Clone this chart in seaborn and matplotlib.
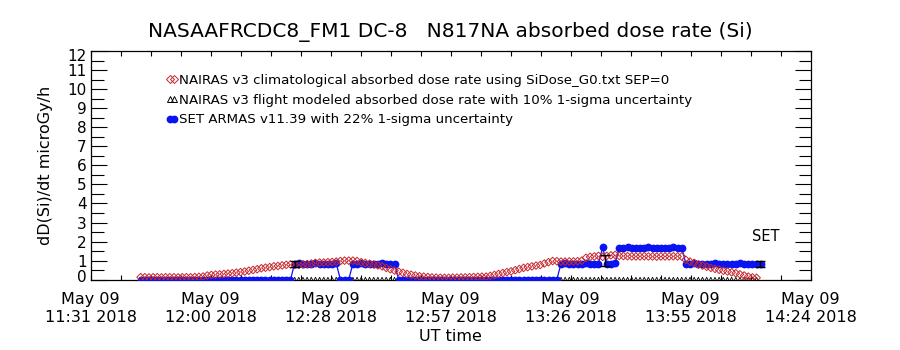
import numpy as np
import pandas as pd
import matplotlib
matplotlib.use("Agg")
import matplotlib.pyplot as plt
import matplotlib.transforms as mtransforms
import seaborn as sns
from matplotlib.lines import Line2D

# ---------------- data ----------------
title = "NASAAFRCDC8_FM1 DC-8   N817NA absorbed dose rate (Si)"
ylabel = "dD(Si)/dt microGy/h"
xlabel = "UT time"
legend_labels = [
    "NAIRAS v3 climatological absorbed dose rate using SiDose_G0.txt SEP=0",
    "NAIRAS v3 flight modeled absorbed dose rate with 10% 1-sigma uncertainty",
    "SET ARMAS v11.39 with 22% 1-sigma uncertainty",
]
x_tick_labels = ["May 09\n11:31 2018", "May 09\n12:00 2018", "May 09\n12:28 2018",
                 "May 09\n12:57 2018", "May 09\n13:26 2018", "May 09\n13:55 2018",
                 "May 09\n14:24 2018"]
x_span_min = 173.0          # minutes from 11:31 to 14:24
y_ticks = list(range(0, 13))

# NAIRAS climatological (red diamonds), one value per minute from minute 12 after 11:31
red_start = 12
red_vals = [0.13, 0.13, 0.12, 0.13, 0.13, 0.12, 0.13, 0.13, 0.13, 0.12, 0.13, 0.13, 0.13, 0.14, 0.15, 0.17,
            0.22, 0.25, 0.27, 0.28, 0.30, 0.32, 0.34, 0.37,
            0.40, 0.43, 0.47, 0.51, 0.55, 0.60,
            0.63, 0.66, 0.70, 0.72, 0.75, 0.78,
            0.80, 0.78,
            0.78, 0.80, 0.82, 0.85, 0.88,
            0.90, 0.90, 0.92, 0.93, 0.95,
            0.98, 1.00, 1.00, 1.00, 0.98,
            0.92, 0.88, 0.84, 0.80,
            0.75, 0.70, 0.62, 0.55,
            0.48, 0.42, 0.36, 0.30,
            0.26, 0.22, 0.18, 0.16,
            0.14, 0.12, 0.11, 0.10,
            0.10, 0.10, 0.11, 0.11, 0.12, 0.12, 0.13, 0.14, 0.15, 0.16, 0.16,
            0.20, 0.25, 0.30, 0.35, 0.40,
            0.44, 0.50, 0.56, 0.62,
            0.66, 0.70, 0.74, 0.77,
            0.85, 0.92, 0.98, 0.97,
            0.95, 0.95, 0.96, 0.96, 0.97, 1.00,
            1.15, 1.20, 1.22, 1.25,
            1.20, 1.25, 1.28, 1.30,
            1.25, 1.24, 1.23, 1.22, 1.22, 1.22, 1.23, 1.22, 1.22, 1.21, 1.22, 1.22, 1.22, 1.23, 1.22, 1.22,
            1.04, 0.95, 0.88,
            0.80, 0.74, 0.68,
            0.62, 0.57, 0.52,
            0.47, 0.43, 0.39, 0.34,
            0.28, 0.22, 0.16,
            0.12, 0.10]

# NAIRAS flight modeled (black triangles)
tri_start = 12
tri_vals = [0.0, 0.0, 0.0, 0.0, 0.0, 0.0, 0.0, 0.0, 0.0, 0.0, 0.0, 0.0, 0.0, 0.0, 0.0, 0.0, 0.0, 0.0, 0.0, 0.0,
            0.0, 0.0, 0.0, 0.0, 0.0, 0.0, 0.0, 0.0, 0.0, 0.0, 0.0, 0.0, 0.0, 0.0, 0.0, 0.0, 0.0, 0.0, 0.0, 0.0,
            0.0, 0.0, 0.0, 0.0, 0.0, 0.0, 0.0, 0.0, 0.0, 0.0, 0.0, 0.0, 0.0, 0.0, 0.0, 0.0, 0.0, 0.0, 0.0, 0.0,
            0.0, 0.0, 0.0, 0.0, 0.0, 0.0, 0.0, 0.0, 0.0, 0.0, 0.0, 0.0, 0.0, 0.0, 0.0, 0.0, 0.0, 0.0, 0.0, 0.0,
            0.0, 0.0, 0.0, 0.0, 0.0, 0.0, 0.0, 0.0, 0.0, 0.0, 0.0, 0.0, 0.0, 0.0, 0.0, 0.0, 0.0, 0.0, 0.0, 0.0,
            0.0, 0.0, 0.0, 0.0, 0.0, 0.0, 0.0, 0.0, 0.0, 0.0, 0.0, 0.0, 0.0, 0.0, 0.0, 0.0, 0.0, 0.0, 0.0, 0.0,
            0.0, 0.0, 0.0, 0.0, 0.0, 0.0, 0.0, 0.0, 0.0, 0.0, 0.0, 0.0, 0.0, 0.0, 0.0, 0.0, 0.0, 0.0, 0.0, 0.0,
            0.0, 0.0, 0.0, 0.0, 0.0, 0.0, 0.0, 0.0, 0.0]

# SET ARMAS (blue), one value per minute from minute 12
blue_start = 12
blue_vals = [
    0.0, 0.0, 0.0, 0.0, 0.0, 0.0, 0.0, 0.0, 0.0, 0.0, 0.0, 0.0, 0.0, 0.0, 0.0, 0.0, 0.0, 0.0, 0.0, 0.0,
    0.0, 0.0, 0.0, 0.0, 0.0, 0.0, 0.0, 0.0, 0.0, 0.0, 0.0, 0.0, 0.0, 0.0, 0.0, 0.0, 0.0,
    0.85, 0.86, 0.85, 0.84, 0.85, 0.86, 0.85, 0.85, 0.84, 0.85, 0.86,
    0.0, 0.0, 0.0,
    0.85, 0.85, 0.86, 0.85, 0.84, 0.85, 0.85, 0.86, 0.85, 0.85, 0.84,
    0.0, 0.0, 0.0, 0.0, 0.0, 0.0, 0.0, 0.0, 0.0, 0.0, 0.0, 0.0, 0.0, 0.0, 0.0, 0.0, 0.0, 0.0, 0.0, 0.0,
    0.0, 0.0, 0.0, 0.0, 0.0, 0.0, 0.0, 0.0, 0.0, 0.0, 0.0, 0.0, 0.0, 0.0, 0.0, 0.0, 0.0, 0.0, 0.0,
    0.85, 0.86, 0.85, 0.85, 0.84, 0.85, 0.86, 0.85, 0.85, 0.85,
    1.70,
    0.85, 0.85, 0.86,
    1.68, 1.68, 1.69, 1.68, 1.67, 1.68, 1.68, 1.69, 1.68, 1.68, 1.67, 1.68, 1.68, 1.69, 1.68, 1.68,
    0.85, 0.85, 0.86, 0.85, 0.84, 0.85, 0.85, 0.86, 0.85, 0.85, 0.84, 0.85, 0.85, 0.86, 0.85, 0.85,
    0.84, 0.85, 0.85]

# error bars (black)
err_t = [49.0, 123.6, 160.8]
err_v = [0.84, 1.00, 0.82]
err_e = [0.16, 0.30, 0.16]

set_label = "SET"
set_label_pos = (159.0, 2.25)

# ---------------- frames ----------------
red_df = pd.DataFrame({"t": np.arange(red_start, red_start + len(red_vals)), "v": red_vals})
tri_df = pd.DataFrame({"t": np.arange(tri_start, tri_start + len(tri_vals)), "v": tri_vals})
blue_df = pd.DataFrame({"t": np.arange(blue_start, blue_start + len(blue_vals)), "v": blue_vals})

RED = "#c8262b"
BLUE = "#0a14f0"

sns.set_theme(style="white")
plt.rcParams["font.family"] = ["DejaVu Sans"]
for k in ["text.color", "axes.labelcolor", "xtick.color", "ytick.color", "axes.edgecolor"]:
    plt.rcParams[k] = "black"

fig = plt.figure(figsize=(9, 3.5), dpi=100)
ax = fig.add_axes([90.7 / 900, 1 - 279.7 / 350, 720 / 900, (279.7 - 51) / 350])

sns.scatterplot(data=tri_df, x="t", y="v", marker="^", s=12, facecolor="none",
                edgecolor="black", linewidth=0.6, ax=ax, zorder=2, legend=False)
sns.lineplot(data=blue_df, x="t", y="v", color=BLUE, linewidth=0.9, marker="o",
             markersize=5.6, markeredgewidth=0, ax=ax, zorder=3, legend=False)
sns.scatterplot(data=red_df, x="t", y="v", marker="D", s=15, facecolor="none",
                edgecolor=RED, linewidth=0.7, ax=ax, zorder=4, legend=False)
ax.errorbar(err_t, err_v, yerr=err_e, fmt="none", ecolor="black", elinewidth=1.0,
            capsize=3.5, capthick=1.0, zorder=5)

ax.text(set_label_pos[0], set_label_pos[1], set_label, fontsize=10.5, color="black",
        ha="left", va="center")

ax.set_xlim(0, x_span_min)
ax.set_ylim(0, 12)

# x ticks every quarter of a labelled interval
n_lab = len(x_tick_labels)
xt = np.linspace(0, x_span_min, (n_lab - 1) * 4 + 1)
xl = []
for i in range(len(xt)):
    xl.append(x_tick_labels[i // 4] if i % 4 == 0 else "")
ax.set_xticks(xt)
ax.set_xticklabels(xl, fontsize=11.5, linespacing=1.25)
ax.tick_params(axis="x", direction="in", length=3.6, width=0.8, top=True, bottom=True, pad=9)
ax.set_yticks(y_ticks)
ax.set_yticklabels([str(v) for v in y_ticks], fontsize=11)
ax.set_yticks(np.arange(0.5, 12, 1.0), minor=True)
ax.tick_params(axis="y", which="major", direction="in", length=11.5, width=0.8, left=True, right=True, pad=3)
ax.tick_params(axis="y", which="minor", direction="in", length=9, width=0.8, left=True, right=True)

# IDL-style: end labels nudged inward
labs = ax.get_yticklabels()
labs[0].set_transform(labs[0].get_transform() + mtransforms.ScaledTranslation(0, 4 / 100, fig.dpi_scale_trans))
labs[-1].set_transform(labs[-1].get_transform() + mtransforms.ScaledTranslation(0, -4 / 100, fig.dpi_scale_trans))

for sp in ax.spines.values():
    sp.set_color("black")
    sp.set_linewidth(0.9)

ax.set_xlabel(xlabel, fontsize=11.5, labelpad=3)
ax.set_ylabel(ylabel, fontsize=11.5, labelpad=10)
ax.set_title(title, fontsize=14.5, pad=10)

handles = [
    Line2D([], [], linestyle="none", marker="D", markersize=4.2, markerfacecolor="none",
           markeredgecolor=RED, markeredgewidth=0.7),
    Line2D([], [], linestyle="none", marker="^", markersize=4, markerfacecolor="none",
           markeredgecolor="black", markeredgewidth=0.7),
    Line2D([], [], color=BLUE, linewidth=0.9, marker="o", markersize=5.6, markeredgewidth=0),
]
ax.legend(handles, legend_labels, loc="upper left", bbox_to_anchor=(166 / 900, 1 - 74 / 350),
          bbox_transform=fig.transFigure, frameon=False, fontsize=9.6, numpoints=2,
          handlelength=0.9, handletextpad=0.1, labelspacing=0.5, borderpad=0, borderaxespad=0)

fig.savefig("out.png", dpi=100)
